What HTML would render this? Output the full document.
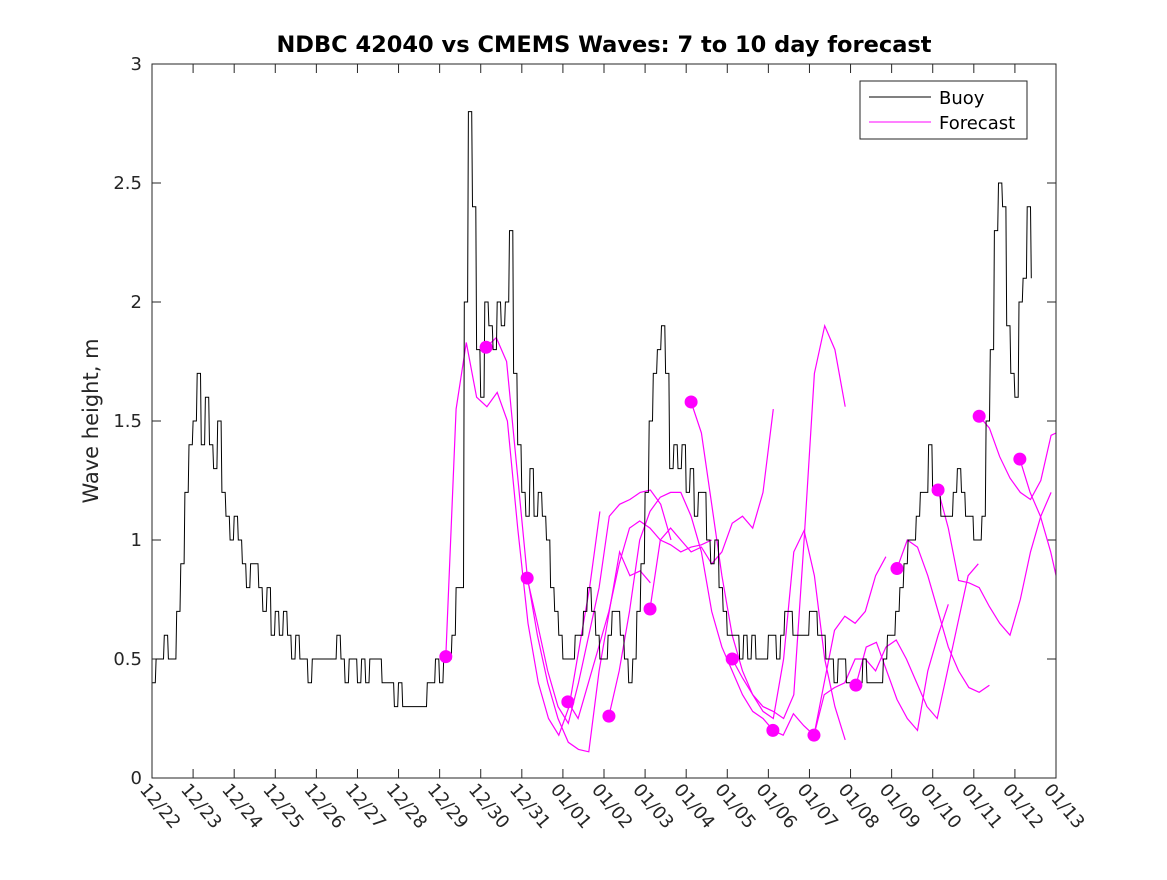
<!DOCTYPE html>
<html><head><meta charset="utf-8"><style>
body{margin:0;background:#fff;}
svg text{font-family:"DejaVu Sans","Liberation Sans",sans-serif;fill:#262626;}
</style></head><body>
<svg id="chart" width="1167" height="875" xmlns="http://www.w3.org/2000/svg">
<defs><clipPath id="clip"><rect x="152" y="64" width="904" height="714"/></clipPath></defs>
<rect x="0" y="0" width="1167" height="875" fill="#fff"/>
<text x="604" y="52" text-anchor="middle" font-size="22.5" font-weight="bold" style="fill:#000">NDBC 42040 vs CMEMS Waves: 7 to 10 day forecast</text>
<g id="axes"></g>
<g id="marks" clip-path="url(#clip)"></g>
<g id="dots"></g>
<rect x="152" y="64" width="904" height="714" fill="none" stroke="#262626" stroke-width="1"/>
<text transform="translate(98,421) rotate(-90)" text-anchor="middle" font-size="21">Wave height, m</text>
<g>
<rect x="860" y="81" width="167" height="58" fill="#fff" stroke="#262626"/>
<line x1="869" y1="97" x2="931" y2="97" stroke="#000"/>
<text x="939" y="104" font-size="18" style="fill:#000">Buoy</text>
<line x1="869" y1="122" x2="931" y2="122" stroke="#f0f"/>
<text x="939" y="129" font-size="18" style="fill:#000">Forecast</text>
</g>
</svg>
<script>
const xLabels=["12/22","12/23","12/24","12/25","12/26","12/27","12/28","12/29","12/30","12/31","01/01","01/02","01/03","01/04","01/05","01/06","01/07","01/08","01/09","01/10","01/11","01/12","01/13"];
const yTicks=[0,0.5,1,1.5,2,2.5,3];
const buoyStep=0.1;
const buoy=[0.4,0.5,0.5,0.6,0.5,0.5,0.7,0.9,1.2,1.4,1.5,1.7,1.4,1.6,1.4,1.3,1.5,1.2,1.1,1.0,
1.1,1.0,0.9,0.8,0.9,0.9,0.8,0.7,0.8,0.6,0.7,0.6,0.7,0.6,0.5,0.6,0.5,0.5,0.4,0.5,
0.5,0.5,0.5,0.5,0.5,0.6,0.5,0.4,0.5,0.5,0.4,0.5,0.4,0.5,0.5,0.5,0.4,0.4,0.4,0.3,
0.4,0.3,0.3,0.3,0.3,0.3,0.3,0.4,0.4,0.5,0.4,0.5,0.5,0.6,0.8,0.8,2.0,2.8,2.4,1.8,
1.6,2.0,1.9,1.8,2.0,1.9,2.0,2.3,1.7,1.4,1.2,1.1,1.3,1.1,1.2,1.1,1.0,0.8,0.7,0.6,
0.5,0.5,0.5,0.6,0.6,0.7,0.8,0.7,0.6,0.5,0.5,0.6,0.7,0.7,0.6,0.5,0.4,0.5,0.7,0.9,
1.2,1.5,1.7,1.8,1.9,1.7,1.3,1.4,1.3,1.4,1.2,1.3,1.1,1.2,1.2,1.0,0.9,1.0,0.8,0.7,
0.6,0.6,0.6,0.5,0.6,0.5,0.6,0.5,0.5,0.5,0.6,0.6,0.5,0.6,0.7,0.7,0.6,0.6,0.6,0.6,
0.7,0.7,0.6,0.6,0.5,0.5,0.4,0.5,0.5,0.4,0.4,0.4,0.4,0.5,0.4,0.4,0.4,0.4,0.5,0.6,
0.6,0.7,0.8,0.9,1.0,1.0,1.1,1.2,1.2,1.4,1.2,1.2,1.1,1.1,1.1,1.2,1.3,1.2,1.1,1.1,
1.0,1.0,1.1,1.5,1.8,2.3,2.5,2.4,1.9,1.7,1.6,2.0,2.1,2.4,2.1];
const fcStart=[7.15,8.13,9.13,10.12,11.12,12.12,13.12,14.12,15.11,16.11,17.13,18.13,19.13,20.13,21.12];
const fcStartVal=[0.51,1.81,0.84,0.32,0.26,0.71,1.58,0.50,0.20,0.18,0.39,0.88,1.21,1.52,1.34];
const fc1=[0.51,1.55,1.83,1.6,1.56,1.62,1.5,1.05,0.65,0.4,0.25,0.18,0.3,0.55,0.8,1.12];
const fc2=[1.81,1.85,1.75,1.3,0.85,0.6,0.4,0.25,0.15,0.12,0.11,0.45,0.7,0.95,0.85,0.87,0.82];
const fc3=[0.84,0.65,0.45,0.3,0.23,0.4,0.6,0.8,1.1,1.15,1.17,1.2,1.21,1.15,1.0];
const fc4=[0.32,0.25,0.4,0.55,0.7,0.9,1.05,1.08,1.05,1.0,0.98,0.95,0.97,0.98,1.0];
const fc5=[0.26,0.45,0.7,1.0,1.12,1.18,1.2,1.2,1.1,0.95,0.7,0.55,0.45,0.35,0.28,0.25,0.2];
const fc6=[0.71,1.0,1.05,1.0,0.95,0.97,0.9,0.95,1.07,1.1,1.05,1.2,1.55];
const fc7=[1.58,1.45,1.15,0.85,0.6,0.45,0.35,0.28,0.25,0.5,0.95,1.04,0.85,0.5,0.3,0.16];
const fc8=[0.5,0.42,0.35,0.3,0.28,0.25,0.35,1.0,1.7,1.9,1.8,1.56];
const fc9=[0.2,0.18,0.27,0.22,0.18,0.4,0.62,0.68,0.65,0.7,0.85,0.93];
const fc10=[0.18,0.35,0.38,0.4,0.5,0.5,0.45,0.55,0.58,0.5,0.4,0.3,0.25,0.45,0.65,0.85,0.9];
const fc11=[0.39,0.55,0.57,0.45,0.33,0.25,0.2,0.45,0.6,0.73];
const fc12=[0.88,1.0,0.97,0.85,0.7,0.55,0.45,0.38,0.36,0.39];
const fc13=[1.21,1.05,0.83,0.82,0.8,0.72,0.65,0.6,0.75,0.95,1.1,1.2];
const fc14=[1.52,1.47,1.35,1.26,1.2,1.17,1.25,1.44,1.46,1.3,1.0];
const fc15=[1.34,1.2,1.1,0.95,0.76];
const forecasts=[fc1,fc2,fc3,fc4,fc5,fc6,fc7,fc8,fc9,fc10,fc11,fc12,fc13,fc14,fc15];
const fcStep=0.25;
const X0=152,X1=1056,Y0=778,Y1=64;
const xs=d=>X0+(X1-X0)*d/22;
const ys=v=>Y0-(Y0-Y1)*v/3;
const NS="http://www.w3.org/2000/svg";
const axes=document.getElementById('axes'),marks=document.getElementById('marks'),dots=document.getElementById('dots');
function mk(t,a,p){const e=document.createElementNS(NS,t);for(const k in a)e.setAttribute(k,a[k]);p.appendChild(e);return e;}
xLabels.forEach((l,i)=>{const x=xs(i);
 const t1=mk('line',{x1:x,y1:Y0,x2:x,y2:Y0-9,stroke:'#262626'},axes);
 
 
 const t2=mk('line',{x1:x,y1:Y1,x2:x,y2:Y1+9,stroke:'#262626'},axes);
 
 
 const tx=mk('text',{transform:`translate(${x-13},${Y0+12}) rotate(50)`,'font-size':18},axes);
 tx.textContent=l;
 
 
});
yTicks.forEach(v=>{const y=ys(v);
 const t1=mk('line',{x1:X0,y1:y,x2:X0+9,y2:y,stroke:'#262626'},axes);
 
 
 const t2=mk('line',{x1:X1,y1:y,x2:X1-9,y2:y,stroke:'#262626'},axes);
 
 
 const tx=mk('text',{x:X0-10,y:y+6,'text-anchor':'end','font-size':18},axes);
 tx.textContent=String(v);
 
 
});
forecasts.forEach((arr,i)=>{
 const pts=arr.map((v,j)=>xs(fcStart[i]+j*fcStep).toFixed(1)+','+ys(v).toFixed(1)).join(' ');
 const p=mk('polyline',{points:pts,fill:'none',stroke:'#f0f','stroke-width':1.2},marks);
 
 
});
let bd='';
buoy.forEach((v,j)=>{const x=xs(j*buoyStep).toFixed(1),y=ys(v).toFixed(1);
 if(j===0)bd+=`M${x},${y}`;else bd+=`L${(+x-0.8).toFixed(1)},${ys(buoy[j-1]).toFixed(1)}L${x},${y}`;});
const bl=mk('path',{d:bd,fill:'none',stroke:'#000','stroke-width':1},marks);


fcStart.forEach((d,i)=>{
 const c=mk('circle',{cx:xs(d),cy:ys(fcStartVal[i]),r:6.5,fill:'#f0f'},dots);
 
 
});
</script>
</body></html>
